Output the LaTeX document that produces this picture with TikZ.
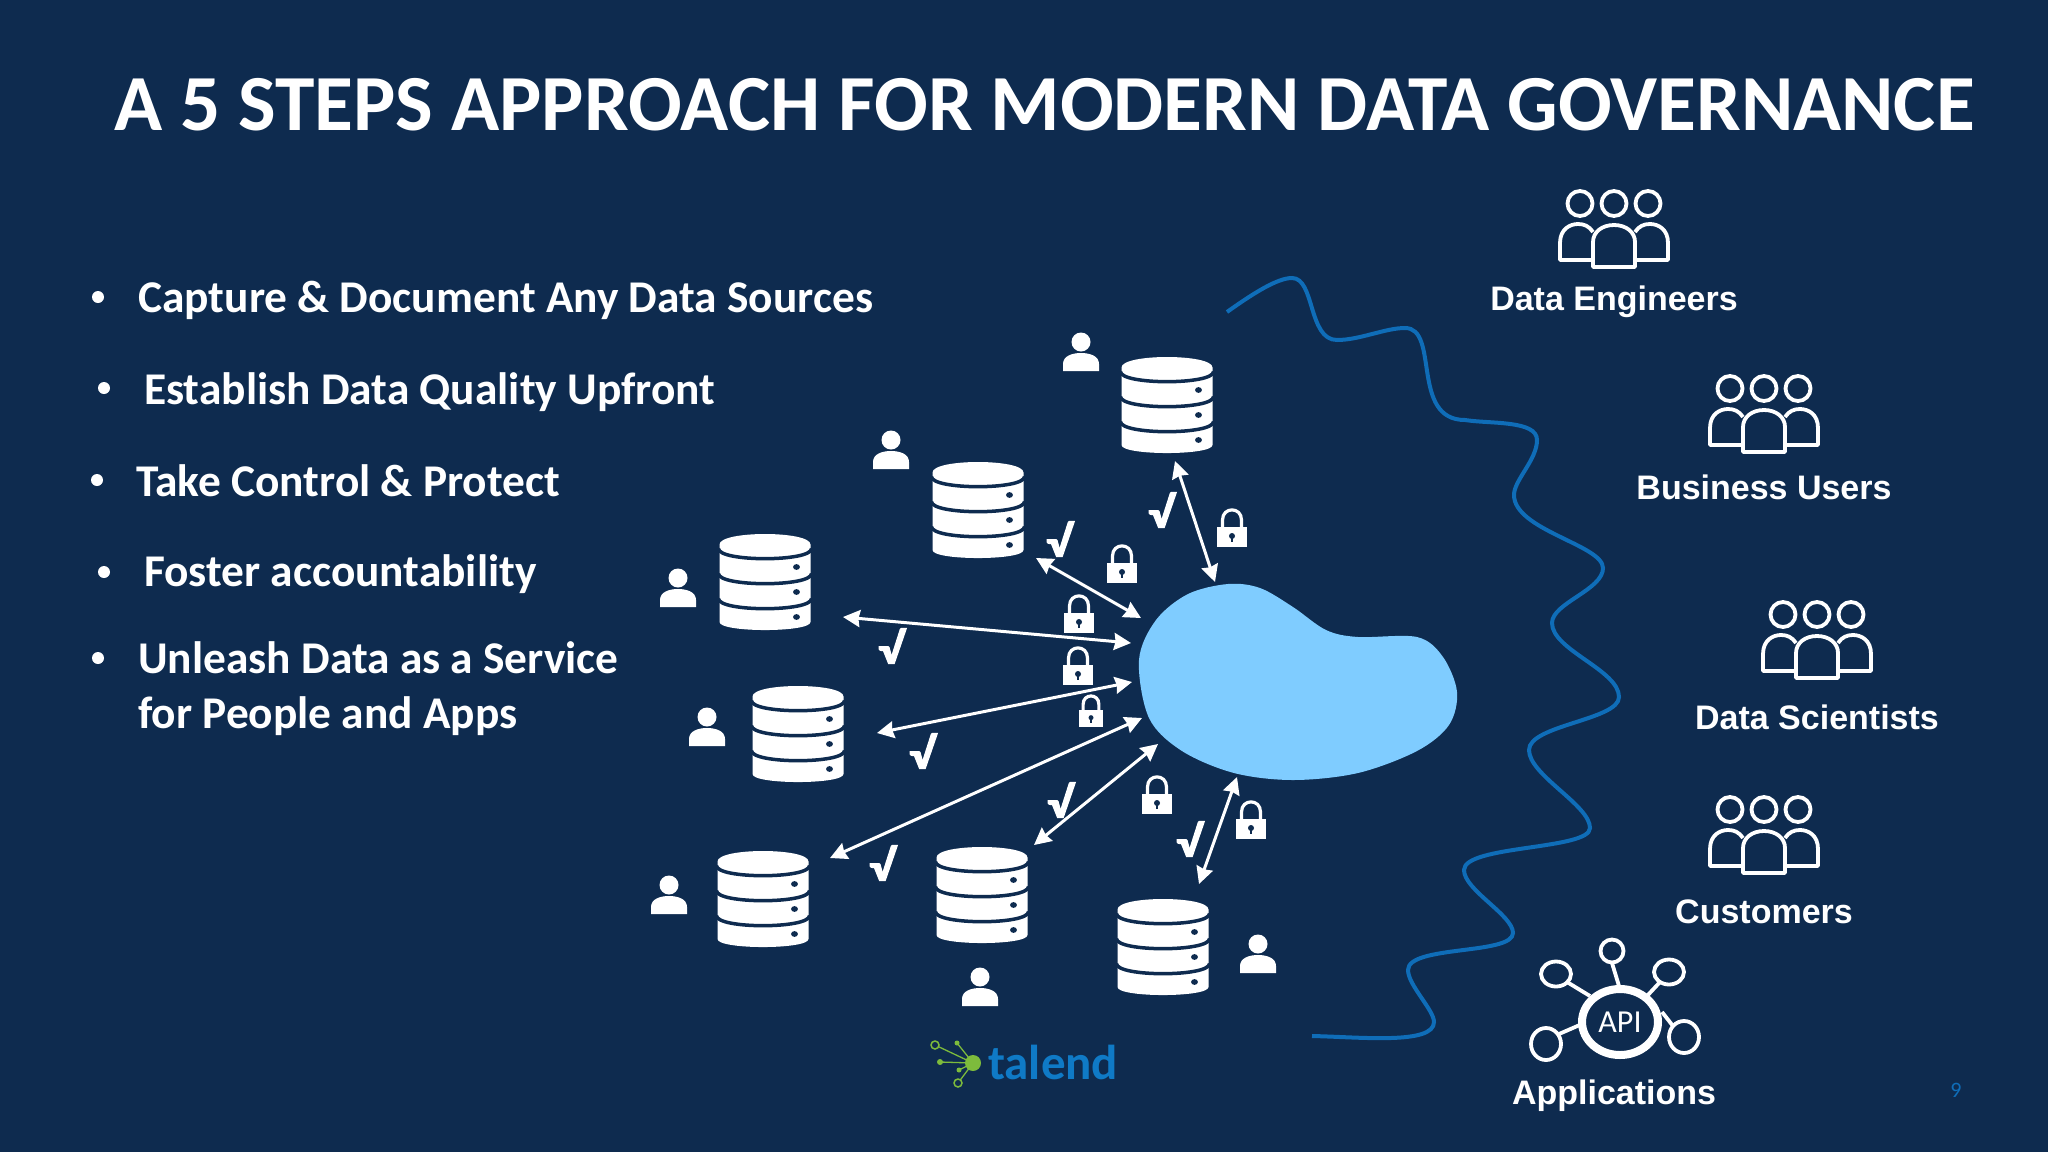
\documentclass[tikz,border=0pt]{standalone}
\usepackage{fontspec}
\setmainfont{Carlito}
\newfontfamily\lab{Liberation Sans}
\newfontfamily\chkfont[FakeBold=2.5,FakeStretch=1.2]{Carlito Bold}
\usetikzlibrary{arrows.meta}
\definecolor{bg}{HTML}{0E2B4F}
\definecolor{wave}{HTML}{0F6DB8}
\definecolor{blob}{HTML}{7FCCFF}
\definecolor{tal}{HTML}{0F7AC6}
\definecolor{lgreen}{HTML}{7DBB3C}
\tikzset{
  title/.style={anchor=west,text=white,inner sep=0,font=\fontsize{79.5}{79.5}\selectfont\bfseries},
  bul/.style={anchor=west,text=white,inner sep=0,font=\fontsize{45.4}{45.4}\selectfont\bfseries},
  lbl/.style={text=white,inner sep=0,font=\lab\fontsize{34}{34}\selectfont\bfseries},
  chk/.style={text=white,inner sep=0,font=\chkfont\fontsize{44}{44}\selectfont},
  link/.style={draw=white,line width=3pt,{Stealth[length=17pt,width=17pt,inset=1.5pt]}-{Stealth[length=17pt,width=17pt,inset=1.5pt]}},
  db/.pic={
    \fill[white] (-45.5,-37.5) -- (-45.5,40) .. controls (-45.5,50.7) and (45.5,50.7) .. (45.5,40) -- (45.5,-37.5)
       .. controls (45.5,-51.5) and (-45.5,-51.5) .. (-45.5,-37.5) -- cycle;
    \foreach \d in {-33.3,-8.3,16.7}
      \draw[bg,line width=3.5pt] (-46.5,\d) .. controls (-46,\d+13.3) and (46,\d+13.3) .. (46.5,\d);
    \foreach \d in {-15,10,35}
      \fill[bg] (31.5,\d) ellipse [x radius=3.4,y radius=2.9];
  },
  person/.pic={
    \fill[white] (0,-10) circle [radius=9.5];
    \fill[white] (-18,19) -- (-18,12) .. controls (-18,4) and (-9,1) .. (0,1) .. controls (9,1) and (18,4) .. (18,12) -- (18,19) -- cycle;
  },
  lock/.pic={
    \draw[white,line width=3.2pt] (-9.5,1) -- (-9.5,-8) .. controls (-9.5,-21.5) and (9.5,-21.5) .. (9.5,-8) -- (9.5,1);
    \fill[white] (-15,-1) rectangle (15,19);
    \fill[bg] (0,8) circle [radius=3];
    \draw[bg,line width=2pt] (0,8) -- (0,14);
  },
  team/.pic={
    \foreach \x in {-34,0,34} \draw[white,line width=3.8pt] (\x,-31.5) circle [radius=12.5];
    \draw[white,line width=3.8pt,line join=round] (-21,25) -- (-54,25) -- (-54,8) .. controls (-54,-6) and (-44,-11) .. (-36,-11) .. controls (-30,-11) and (-25,-9) .. (-21,-3);
    \draw[white,line width=3.8pt,line join=round] (21,25) -- (54,25) -- (54,8) .. controls (54,-6) and (44,-11) .. (36,-11) .. controls (30,-11) and (25,-9) .. (21,-3);
    \draw[white,line width=3.8pt,line join=round] (-21,32) -- (-21,7) .. controls (-21,-3) and (-12,-10) .. (0,-10) .. controls (12,-10) and (21,-3) .. (21,7) -- (21,32) -- cycle;
  },
}
\begin{document}
\begin{tikzpicture}[x=1pt,y=-1pt]
\fill[bg] (0,0) rectangle (2048,1152);
\useasboundingbox (0,0) rectangle (2048,1152);
\node[title] (ttl) at (114,105) {A 5 STEPS APPROACH FOR MODERN DATA GOVERNANCE};
% bullets
\foreach \n/\x/\y in {a/98/297,b/104/388,c/97/480,d/104/572,e/98/658}
  \fill[white] (\x,\y) circle [radius=6];
\node[bul] (b1) at (138,300) {Capture \& Document Any Data Sources};
\node[bul] (b2) at (144,392) {Establish Data Quality Upfront};
\node[bul] (b3) at (136,481) {Take Control \& Protect};
\node[bul] (b4) at (144,574) {Foster accountability};
\node[bul] (b5) at (138,658) {Unleash Data as a Service};
\node[bul] (b6) at (138,716) {for People and Apps};
% wave
\draw[wave,line width=4pt] (1227,312) .. controls (1255,292) and (1278,278) .. (1292,278)
 .. controls (1315,278) and (1308,340) .. (1337,340)
 .. controls (1360,340) and (1385,328) .. (1405,328)
 .. controls (1440,328) and (1410,420) .. (1465,420)
 .. controls (1490,424) and (1537,420) .. (1537,440)
 .. controls (1537,460) and (1514,480) .. (1514,495)
 .. controls (1514,530) and (1603,545) .. (1603,568)
 .. controls (1603,590) and (1552,603) .. (1552,623)
 .. controls (1552,650) and (1619,670) .. (1619,697)
 .. controls (1619,720) and (1529,725) .. (1529,750)
 .. controls (1529,775) and (1590,805) .. (1590,828)
 .. controls (1590,850) and (1464,845) .. (1464,870)
 .. controls (1464,890) and (1513,915) .. (1513,933)
 .. controls (1513,955) and (1408,945) .. (1408,970)
 .. controls (1408,985) and (1434,1010) .. (1434,1022)
 .. controls (1434,1045) and (1360,1037) .. (1312,1036);
% blob
\fill[blob] plot[smooth cycle,tension=0.55] coordinates {
(1139,660) (1156,620) (1188,594) (1228,584) (1260,588) (1293,607) (1326,630) (1358,637) (1417,637) (1443,657) (1457,692) (1449,725) (1417,751) (1358,773) (1293,780) (1234,773) (1182,751) (1149,718)};
% databases
\pic (d1) at (1167,405) {db};
\pic (d2) at (978,510) {db};
\pic (d3) at (765,582) {db};
\pic (d4) at (798,734) {db};
\pic (d5) at (763,899) {db};
\pic (d6) at (982,895) {db};
\pic (d7) at (1163,947) {db};
% persons
\pic (p1) at (1081,352) {person};
\pic (p2) at (891,450) {person};
\pic (p3) at (678,588) {person};
\pic (p4) at (707,727) {person};
\pic (p5) at (669,895) {person};
\pic (p6) at (980,987) {person};
\pic (p7) at (1258,954) {person};
% locks
\pic (l1) at (1232,528) {lock};
\pic (l2) at (1122,564) {lock};
\pic (l3) at (1079,614) {lock};
\pic (l4) at (1078,666) {lock};
\pic[scale=.83] (l5) at (1091,711) {lock};
\pic (l6) at (1157,795) {lock};
\pic (l7) at (1251,820) {lock};
% arrows
\coordinate (a1s) at (1175,461); \coordinate (a1e) at (1215,582);
\coordinate (a2s) at (1036,558); \coordinate (a2e) at (1141,618);
\coordinate (a3s) at (843,617);  \coordinate (a3e) at (1131,643);
\coordinate (a4s) at (877,733);  \coordinate (a4e) at (1132,682);
\coordinate (a5s) at (830,858);  \coordinate (a5e) at (1142,718);
\coordinate (a6s) at (1034,845); \coordinate (a6e) at (1158,744);
\coordinate (a7s) at (1237,777); \coordinate (a7e) at (1199,884);
\foreach \i in {1,...,7} \draw[link] (a\i s) -- (a\i e);
% checks
\node[chk] (c1) at (1161,510) {√};
\node[chk] (c2) at (1059,539) {√};
\node[chk] (c3) at (891,646) {√};
\node[chk] (c4) at (922,751) {√};
\node[chk] (c5) at (1060,800) {√};
\node[chk] (c6) at (1189,839) {√};
\node[chk] (c7) at (882,863) {√};
% teams
\pic (t1) at (1614,235) {team};
\node[lbl] (t1l) at (1614,302) {Data Engineers};
\pic (t2) at (1764,420) {team};
\node[lbl] (t2l) at (1764,487) {Business Users};
\pic (t3) at (1817,646) {team};
\node[lbl] (t3l) at (1817,717) {Data Scientists};
\pic (t4) at (1764,841) {team};
\node[lbl] (t4l) at (1764,912) {Customers};
% API
\draw[white,line width=8pt] (1620,1022) ellipse [x radius=38,y radius=33];
\node[text=white,inner sep=0,font=\fontsize{32}{32}\selectfont] (api) at (1620,1022) {API};
\foreach \n/\x/\y/\rx/\ry in {s1/1612/951/11.5/11.5,s2/1556/974/15/12.5,s3/1669/972/15/12.5,s4/1546/1044/15/16,s5/1684/1037/15/16}
  \draw[white,line width=3.8pt] (\x,\y) ellipse [x radius=\rx,y radius=\ry];
\draw[white,line width=3.8pt] (1612,963) -- (1619,986);
\draw[white,line width=3.8pt] (1567,982) -- (1590,996);
\draw[white,line width=3.8pt] (1660,982) -- (1647,996);
\draw[white,line width=3.8pt] (1559,1034) -- (1582,1024);
\draw[white,line width=3.8pt] (1673,1026) -- (1662,1012);
\node[lbl] (apil) at (1614,1096) {Applications};
% talend
\foreach \x/\y/\r/\f in {935/1045/4/0,957/1043/2.5/1,940/1062/3/1,959/1070/2.5/1,958/1083/4/0}{
  \draw[lgreen,line width=1.3pt] (\x,\y) -- (973,1063);
  \ifnum\f=1 \fill[lgreen] (\x,\y) circle [radius=\r]; \else \filldraw[lgreen,fill=bg,line width=1.5pt] (\x,\y) circle [radius=\r]; \fi
}
\fill[lgreen] (973,1063) circle [radius=8];
\node[anchor=west,text=tal,inner sep=0,font=\fontsize{49}{49}\selectfont\bfseries] (tal) at (988,1062) {talend};
\node[text=wave,inner sep=0,font=\fontsize{22}{22}\selectfont] (pg) at (1956,1090) {9};
\end{tikzpicture}
\end{document}
